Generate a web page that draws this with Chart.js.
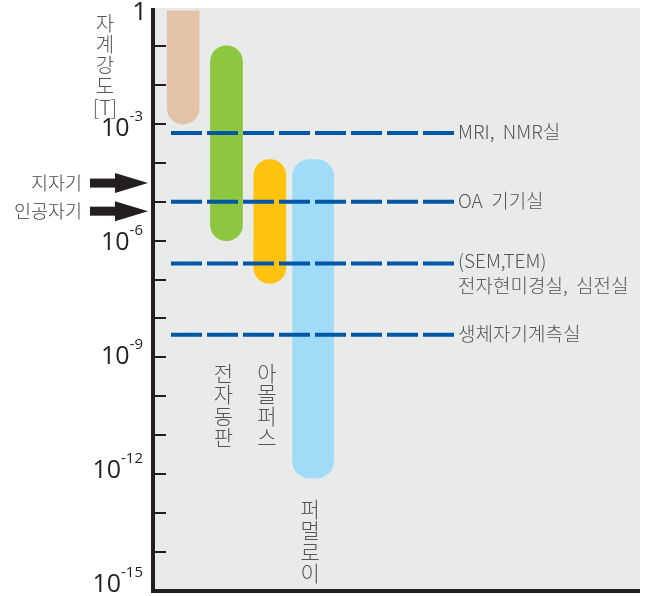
<!DOCTYPE html>
<html>
<head>
<meta charset="utf-8">
<script src="https://cdn.jsdelivr.net/npm/chart.js@4.4.0/dist/chart.umd.min.js"></script>
<style>
  html, body { margin: 0; padding: 0; background: #fff; }
  canvas { display: block; }
</style>
</head>
<body>
<canvas id="grafico" width="646" height="596"></canvas>
<script>
// 재료별 차폐 가능 자계강도 범위 (T)
const materials = ['', '전자동판', '아몰퍼스', '퍼멀로이'];
const rangeLow  = [1e-3, 1e-6, 8e-8, 8e-13];
const rangeHigh = [0.8, 1e-1, 1.2e-4, 1.2e-4];
const barColors = ['#e2c3a8', '#8dc63f', '#ffc20e', '#a0dcf7'];

// 환경별 허용 자계 (T)
const roomNames  = [['MRI,  NMR실'], ['OA  기기실'], ['(SEM,TEM)', '전자현미경실,  심전실'], ['생체자기계측실']];
const roomLevels = [5.8e-4, 1e-5, 2.6e-7, 3.8e-9];

// 자계 발생원 (T)
const sources = ['지자기', '인공자기'];
const sourceLevels = [3e-5, 5.7e-6];

// 축 눈금 (지수)
const tickExps = [0, -3, -6, -9, -12, -15];

const barWidths = [32, 32, 32, 41];
const nameLevels = [null, 4e-10, 4e-10, 1.3e-13];
const xLabels = materials.concat(['', '', '', '', '', '', '']);

const datasets = materials.map((m, i) => ({
  label: m,
  data: materials.map((_, j) => j === i ? [rangeLow[i], rangeHigh[i]] : null),
  backgroundColor: barColors[i],
  barThickness: barWidths[i],
  grouped: false,
  borderSkipped: false,
  borderRadius: i === 0 ? {topLeft: 0, topRight: 0, bottomLeft: 16, bottomRight: 16} : (i === 3 ? 17 : 16)
}));

const KR = '"Noto Sans CJK KR"';

const decor = {
  id: 'decor',
  beforeDraw(chart) {
    const c = chart.ctx, a = chart.chartArea;
    c.save();
    c.fillStyle = '#e9eaea';
    c.fillRect(152, 8, 640 - 152, a.bottom - 8);
    c.restore();
  },
  afterDatasetsDraw(chart) {
    const c = chart.ctx, y = chart.scales.y;
    c.save();
    c.strokeStyle = '#0057a6';
    c.lineWidth = 4;
    c.setLineDash([31, 5]);
    roomLevels.forEach(v => {
      const py = y.getPixelForValue(v);
      c.beginPath();
      c.moveTo(171, py);
      c.lineTo(454, py);
      c.stroke();
    });
    c.setLineDash([]);
    c.fillStyle = '#555';
    c.font = '300 19px ' + KR;
    c.textAlign = 'left';
    c.textBaseline = 'middle';
    roomNames.forEach((lines, i) => {
      const py = y.getPixelForValue(roomLevels[i]);
      const top = lines.length > 1 ? py - 3 : py - 1;
      lines.forEach((t, k) => c.fillText(t, 458, top + k * 25));
    });
    c.restore();
  },
  afterDraw(chart) {
    const c = chart.ctx, a = chart.chartArea, y = chart.scales.y, x = chart.scales.x;
    c.save();
    // 축
    c.fillStyle = '#231f20';
    c.fillRect(151, 8, 4, a.bottom - 6);
    c.fillRect(151, a.bottom - 2, 640 - 151, 4);
    for (let k = 1; k < 15; k++) {
      const py = Math.round(y.getPixelForValue(Math.pow(10, -k)));
      c.fillRect(153, py - 1, 13, 2);
    }
    // 눈금 라벨
    c.fillStyle = '#231f20';
    c.textBaseline = 'middle';
    tickExps.forEach(e => {
      const k = -e;
      const py = y.getPixelForValue(Math.pow(10, e)) + 8 - 14 * k / 15;
      if (e === 0) {
        c.font = '26px "Open Sans"';
        c.textAlign = 'right';
        c.fillText('1', 147, y.getPixelForValue(1) + 6);
        return;
      }
      c.font = '25px "Open Sans"';
      const w1 = c.measureText('10').width;
      c.font = '15px "Open Sans"';
      const sup = '-' + k;
      const w2 = c.measureText(sup).width;
      c.textAlign = 'left';
      c.font = '25px "Open Sans"';
      c.fillText('10', 143 - w1 - w2, py);
      c.font = '15px "Open Sans"';
      c.fillText(sup, 143 - w2, py - 12);
    });
    // 축 제목
    c.fillStyle = '#555';
    c.font = '300 20px ' + KR;
    c.textAlign = 'center';
    ['자', '계', '강', '도', '[T]'].forEach((t, i) => c.fillText(t, 105, 23 + i * 21));
    // 재료명 (세로)
    c.font = '300 21px ' + KR;
    materials.forEach((m, i) => {
      if (!m) return;
      const px = x.getPixelForValue(i);
      const py = y.getPixelForValue(nameLevels[i]);
      [...m].forEach((ch, k) => c.fillText(ch, px - 3, py + k * 21.5));
    });
    // 자계 발생원 화살표
    sources.forEach((s, i) => {
      const py = y.getPixelForValue(sourceLevels[i]);
      c.fillStyle = '#444';
      c.font = '300 18.5px ' + KR;
      c.textAlign = 'right';
      c.fillText(s, 82, py);
      c.fillStyle = '#231f20';
      c.fillRect(90, py - 4.5, 26, 9);
      c.beginPath();
      c.moveTo(115, py - 10);
      c.lineTo(148, py);
      c.lineTo(115, py + 10);
      c.closePath();
      c.fill();
    });
    c.restore();
  }
};

new Chart(document.getElementById('grafico'), {
  type: 'bar',
  data: { labels: xLabels, datasets: datasets },
  options: {
    responsive: false,
    animation: false,
    layout: { padding: { left: 161.5, right: 8, top: 7, bottom: 5 } },
    plugins: { legend: { display: false }, tooltip: { enabled: false } },
    scales: {
      x: { type: 'category', display: false, offset: true },
      y: { type: 'logarithmic', display: false, min: 1e-15, max: 1 }
    }
  },
  plugins: [decor]
});
</script>
</body>
</html>
